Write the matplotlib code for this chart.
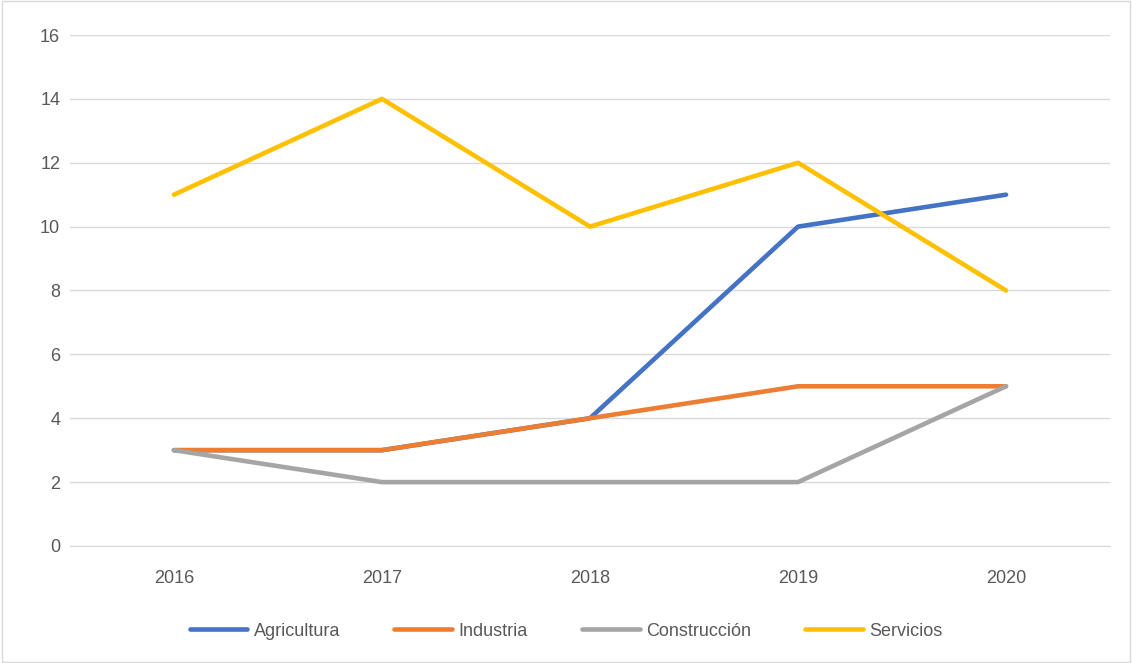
import matplotlib.pyplot as plt
from matplotlib.patches import Rectangle

# datos
years = ["2016", "2017", "2018", "2019", "2020"]
agricultura = [3, 3, 4, 10, 11]
industria = [3, 3, 4, 5, 5]
construccion = [3, 2, 2, 2, 5]
servicios = [11, 14, 10, 12, 8]

series = [
    ("Agricultura", agricultura, "#4472C4"),
    ("Industria", industria, "#ED7D31"),
    ("Construcción", construccion, "#A5A5A5"),
    ("Servicios", servicios, "#FFC000"),
]

plt.rcParams['font.family'] = ['Liberation Sans', 'DejaVu Sans']

fig = plt.figure(figsize=(11.32, 6.63), dpi=100)
ax = fig.add_axes([0.0618, 0.1765, 0.9188, 0.7707])

x = range(len(years))
for name, vals, color in series:
    ax.plot(x, vals, color=color, linewidth=3.3, label=name,
            solid_joinstyle="round", solid_capstyle="round")

ax.set_xlim(-0.5, len(years) - 0.5)
ax.set_ylim(0, 16)
ax.set_yticks(range(0, 17, 2))
ax.set_xticks(list(x))
ax.set_xticklabels(years)
ax.grid(axis="y", color="#D9D9D9", linewidth=1)
ax.set_axisbelow(True)
for s in ["top", "right", "left"]:
    ax.spines[s].set_visible(False)
ax.spines["bottom"].set_color("#D9D9D9")
ax.tick_params(axis="both", length=0, labelsize=13, colors="#595959")
ax.tick_params(axis="x", pad=17)
ax.tick_params(axis="y", pad=7)

leg = fig.legend(loc="center", bbox_to_anchor=(0.5, 0.048), ncol=4, frameon=False,
                 fontsize=13, handlelength=3.2, columnspacing=3.0, handletextpad=0.35)
for t in leg.get_texts():
    t.set_color("#595959")

# borde del grafico
fig.patches.append(Rectangle((0.002, 0.002), 0.996, 0.996, transform=fig.transFigure,
                             fill=False, edgecolor="#D9D9D9", linewidth=1))

fig.savefig("out.png", dpi=100)
